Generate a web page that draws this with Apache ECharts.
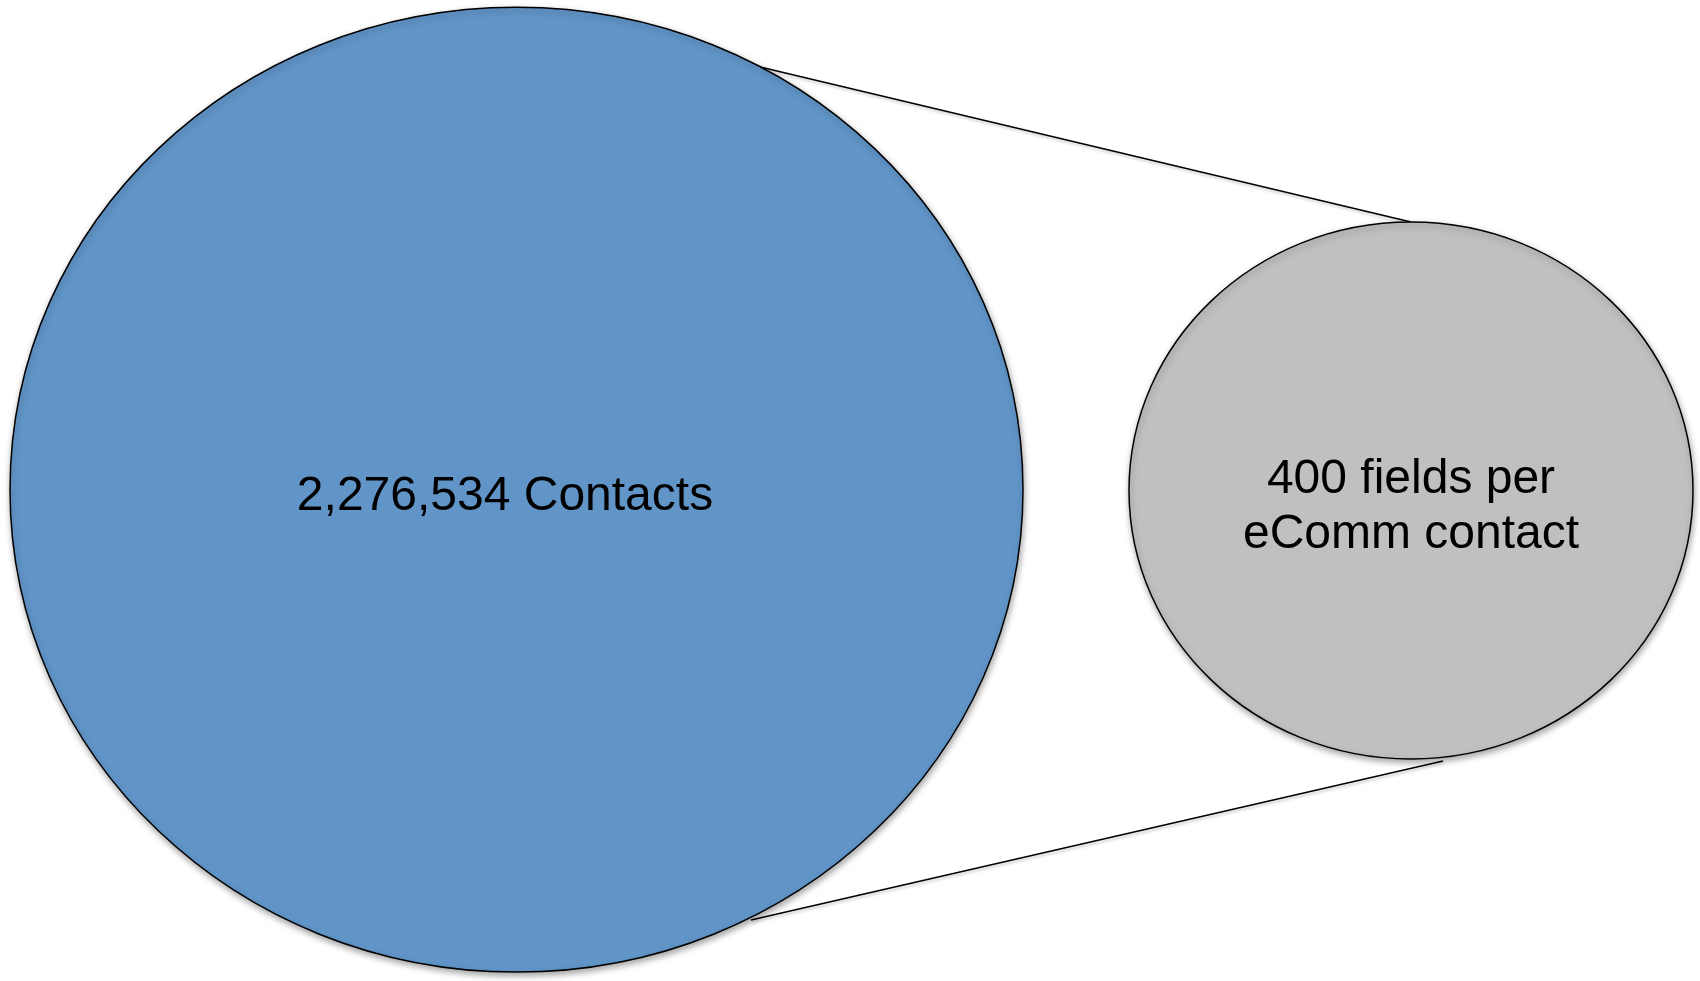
<!DOCTYPE html>
<html>
<head>
<meta charset="utf-8">
<script src="https://cdn.jsdelivr.net/npm/echarts@6/dist/echarts.min.js"></script>
<style>
html,body{margin:0;padding:0;background:#fff;}
#chart{width:1700px;height:981px;}
</style>
</head>
<body>
<div id="chart"></div>
<script>
// Shapes (in a 1700 x 981 data space, y downward)
const shapeLabels = ['2,276,534 Contacts', '400 fields per\neComm contact'];
const shapeCenterX = [516.5, 1411];
const shapeCenterY = [489.7, 490.5];
const shapeRadiusX = [506.5, 282];
const shapeRadiusY = [482.4, 268.5];
const shapeColors = ['#6195C8', '#C0C0C0'];
const labelCenterX = [505, 1411];
const labelCenterY = [496.5, 507.5];

// Connector lines from big ellipse edge to small ellipse edge
const topConnector = [[756, 66], [1411, 222]];
const bottomConnector = [[751, 920], [1443, 761]];

const ellipseData = shapeLabels.map((l, i) => [shapeCenterX[i], shapeCenterY[i], shapeRadiusX[i], shapeRadiusY[i], labelCenterX[i], labelCenterY[i], i]);

const chart = echarts.init(document.getElementById('chart'), null, {renderer: 'canvas'});
chart.setOption({
  animation: false,
  backgroundColor: '#ffffff',
  grid: {left: 0, right: 0, top: 0, bottom: 0},
  xAxis: {type: 'value', min: 0, max: 1700, show: false},
  yAxis: {type: 'value', min: 0, max: 981, inverse: true, show: false},
  series: [
    {
      type: 'line',
      data: topConnector,
      symbol: 'none',
      z: 1,
      lineStyle: {color: '#000', width: 1.4, shadowColor: 'rgba(0,0,0,0.25)', shadowBlur: 3, shadowOffsetX: 1, shadowOffsetY: 2}
    },
    {
      type: 'line',
      data: bottomConnector,
      symbol: 'none',
      z: 1,
      lineStyle: {color: '#000', width: 1.4, shadowColor: 'rgba(0,0,0,0.25)', shadowBlur: 3, shadowOffsetX: 1, shadowOffsetY: 2}
    },
    {
      type: 'custom',
      z: 2,
      data: ellipseData,
      renderItem: function (params, api) {
        const i = api.value(6);
        const c = api.coord([api.value(0), api.value(1)]);
        const s = api.size([api.value(2), api.value(3)]);
        const t = api.coord([api.value(4), api.value(5)]);
        return {
          type: 'group',
          children: [
            {
              type: 'ellipse',
              shape: {cx: c[0], cy: c[1], rx: s[0], ry: s[1]},
              style: {
                fill: shapeColors[i],
                stroke: '#000',
                lineWidth: 1.5,
                shadowColor: 'rgba(0,0,0,0.35)',
                shadowBlur: 6,
                shadowOffsetX: 1,
                shadowOffsetY: 3
              }
            },
            {
              type: 'text',
              x: t[0],
              y: t[1],
              style: {
                text: shapeLabels[i],
                fill: '#000',
                font: '48px "Liberation Sans", Arial, sans-serif',
                align: 'center',
                verticalAlign: 'middle',
                lineHeight: 55
              }
            }
          ]
        };
      }
    }
  ]
});
</script>
</body>
</html>
